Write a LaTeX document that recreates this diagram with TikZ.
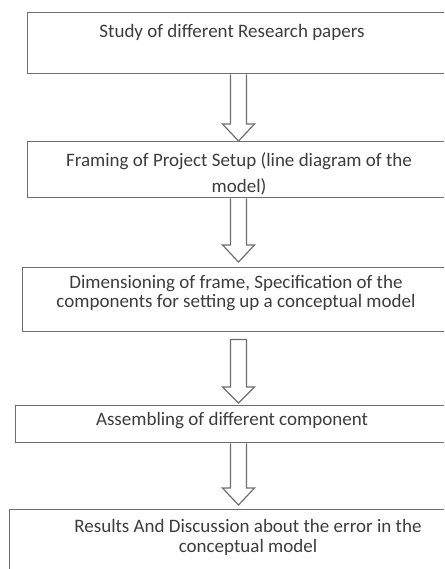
\documentclass[tikz,border=0pt]{standalone}
\usepackage{fontspec}
\setmainfont{Carlito}
\usetikzlibrary{calc}
\definecolor{linegray}{HTML}{6E6E6E}
\definecolor{textgray}{HTML}{3C3C3C}
\begin{document}
\begin{tikzpicture}[x=1pt,y=-1pt,
  box/.style={draw=linegray, line width=1.4pt, rectangle, inner sep=0pt, anchor=north west, minimum width=480pt},
  lbl/.style={text=textgray, align=center, inner sep=0pt},
  arr/.style={draw=linegray, line width=1.2pt, line join=miter}]
\useasboundingbox (0,0) rectangle (444,569);
\clip (0,0) rectangle (444,569);
\coordinate (ax) at (238.5,0);
% boxes
\node[box, minimum height=61pt] (b1) at (27,12) {};
\node[box, minimum height=56pt] (b2) at (27,141) {};
\node[box, minimum height=64pt] (b3) at (22,267) {};
\node[box, minimum height=37pt] (b4) at (15,405) {};
\node[box, minimum height=90pt] (b5) at (9,509) {};
% texts
\node[lbl, font=\fontsize{19}{22}\selectfont] (t1) at (232,32) {Study of different Research papers};
\node[lbl, font=\fontsize{19}{26}\selectfont] (t2) at (239,174) {Framing of Project Setup (line diagram of the\\model)};
\node[lbl, font=\fontsize{19}{18.5}\selectfont] (t3) at (236,293) {Dimensioning of frame, Specification of the\\components for setting up a conceptual model};
\node[lbl, font=\fontsize{19}{22}\selectfont] (t4) at (232,421) {Assembling of different component};
\node[lbl, font=\fontsize{19}{20}\selectfont] (t5) at (248,537) {Results And Discussion about the error in the\\conceptual model};
% block arrows
\draw[arr] ($(b1.south -| ax)+(-8,0)$) -- ($(b2.north -| ax)+(-8,-17)$) -- ($(b2.north -| ax)+(-16,-17)$) -- (b2.north -| ax) -- ($(b2.north -| ax)+(16,-17)$) -- ($(b2.north -| ax)+(8,-17)$) -- ($(b1.south -| ax)+(8,0)$);
\draw[arr] ($(b2.south -| ax)+(-8,0)$) -- ($(b3.north -| ax)+(-8,-22)$) -- ($(b3.north -| ax)+(-16,-22)$) -- ($(b3.north -| ax)+(0,-5)$) -- ($(b3.north -| ax)+(16,-22)$) -- ($(b3.north -| ax)+(8,-22)$) -- ($(b2.south -| ax)+(8,0)$);
\draw[arr] ($(b3.south -| ax)+(-8,7)$) -- ($(b4.north -| ax)+(-8,-18)$) -- ($(b4.north -| ax)+(-16,-18)$) -- ($(b4.north -| ax)+(0,-2)$) -- ($(b4.north -| ax)+(16,-18)$) -- ($(b4.north -| ax)+(8,-18)$) -- ($(b3.south -| ax)+(8,7)$) -- cycle;
\draw[arr] ($(b4.south -| ax)+(-8,0)$) -- ($(b5.north -| ax)+(-8,-21)$) -- ($(b5.north -| ax)+(-16,-21)$) -- ($(b5.north -| ax)+(0,-4)$) -- ($(b5.north -| ax)+(16,-21)$) -- ($(b5.north -| ax)+(8,-21)$) -- ($(b4.south -| ax)+(8,0)$);
\end{tikzpicture}
\end{document}
